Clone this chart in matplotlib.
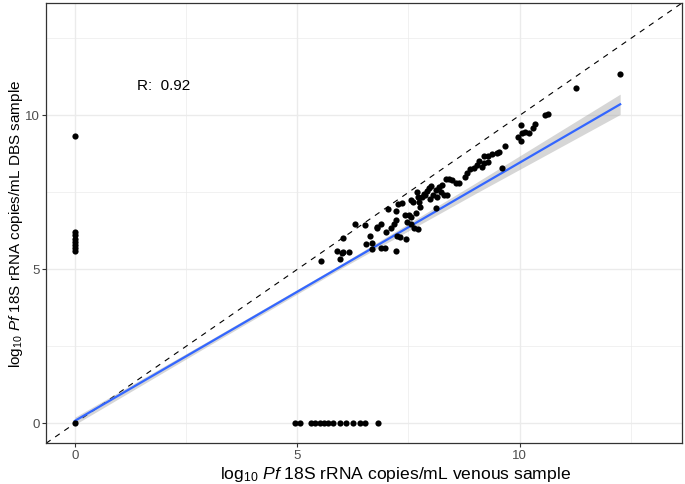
import numpy as np
import matplotlib.pyplot as plt

plt.rcParams['font.family'] = ['Liberation Sans', 'DejaVu Sans']
plt.rcParams['mathtext.fontset'] = 'custom'
plt.rcParams['mathtext.rm'] = 'Liberation Sans'
plt.rcParams['mathtext.it'] = 'Liberation Sans:italic'

# venous (x) vs DBS (y), log10 copies/mL
venous = [0, 0, 0, 0, 0, 0, 0, 0, 0,
          4.95, 5.05, 5.3, 5.4, 5.5, 5.6, 5.7, 5.8, 5.95, 6.1, 6.25, 6.4, 6.52, 6.82,
          5.54, 5.96, 5.90, 6.02, 6.17, 6.02, 6.30, 6.52, 6.64, 6.55, 6.67, 6.67,
          6.88, 6.97, 6.80, 6.88, 6.99, 7.10, 7.17, 7.21, 7.27, 7.21, 7.21, 7.25,
          7.32, 7.45, 7.42, 7.51, 7.55, 7.47, 7.55, 7.62, 7.72, 7.55, 7.66, 7.70,
          7.72, 7.74, 7.76, 7.81, 7.88, 7.96, 7.99, 8.05, 8.11, 8.15, 8.18, 8.24,
          8.26, 8.30, 8.37, 8.11, 8.42, 8.48, 8.56, 8.63, 8.78, 8.82, 8.89, 8.97,
          9.04, 9.08, 9.19, 9.29, 9.38, 9.49, 9.53, 9.19, 9.29, 9.16, 9.66, 9.60,
          9.96, 10.04, 10.05, 10.04, 10.13, 10.20, 10.31, 10.35, 10.58, 10.63,
          11.27, 12.26, 6.0, 6.79, 7.05, 7.35, 7.60, 7.85, 7.92, 8.00, 8.35]
dbs = [0, 9.33, 6.2, 6.1, 6.0, 5.9, 5.8, 5.7, 5.6,
       0, 0, 0, 0, 0, 0, 0, 0, 0, 0, 0, 0, 0, 0,
       5.27, 5.33, 5.59, 5.56, 5.56, 6.03, 6.47, 6.45, 6.09, 5.82, 5.84, 5.66,
       5.70, 5.70, 6.38, 6.46, 6.22, 6.33, 6.47, 6.60, 7.12, 6.89, 5.59, 6.08,
       6.06, 6.00, 6.76, 6.76, 6.71, 6.55, 6.46, 6.33, 6.31, 7.25, 6.82, 7.52,
       7.36, 7.20, 7.03, 7.36, 7.41, 7.63, 7.30, 7.41, 7.57, 7.36, 7.68, 7.52,
       7.74, 7.41, 7.41, 6.98, 7.92, 7.90, 7.81, 7.79, 8.01, 8.12, 8.25, 8.28,
       8.39, 8.52, 8.68, 8.68, 8.74, 8.79, 8.82, 8.46, 8.49, 8.31, 9.01, 8.28,
       9.29, 9.18, 9.42, 9.69, 9.47, 9.42, 9.58, 9.72, 10.01, 10.04,
       10.88, 11.34, 5.54, 6.34, 6.95, 7.15, 7.20, 7.45, 7.55, 7.70, 7.95]

# fitted line and confidence band
fit_x = [0, 12.26]
fit_y = [0.08, 10.36]
band_x = [0, 3, 6, 9, 12.26]
band_hw = [0.12, 0.08, 0.07, 0.17, 0.33]
r_value = 0.92

fig = plt.figure(figsize=(6.85, 4.84), dpi=100)
ax = fig.add_axes([0.0672, 0.0841, 0.9284, 0.9097])

lims = (-0.65, 13.65)
ax.set_xlim(lims)
ax.set_ylim(lims)

ax.set_xticks([0, 5, 10])
ax.set_yticks([0, 5, 10])
ax.set_xticks([2.5, 7.5, 12.5], minor=True)
ax.set_yticks([2.5, 7.5, 12.5], minor=True)
ax.grid(True, which='major', color='#ebebeb', lw=1.0, zorder=0)
ax.grid(True, which='minor', color='#ebebeb', lw=0.5, zorder=0)
ax.tick_params(which='minor', length=0)
ax.tick_params(which='major', length=3, width=0.8, color='#333333',
               labelcolor='#4d4d4d', labelsize=9.5, pad=1.5)
for s in ax.spines.values():
    s.set_color('#333333')
    s.set_linewidth(0.9)

ax.plot(lims, lims, ls=(0, (5, 5)), color='black', lw=0.8, zorder=2)

bx = np.array(band_x)
line_at = np.interp(bx, fit_x, fit_y)
ax.fill_between(bx, line_at - np.array(band_hw), line_at + np.array(band_hw),
                color='#999999', alpha=0.4, lw=0, zorder=3)
ax.plot(fit_x, fit_y, color='#3366FF', lw=1.6, zorder=4)

ax.scatter(venous, dbs, s=20, color='black', lw=0, zorder=5)

ax.text(2.0, 10.95, f'R:  {r_value}', ha='center', va='center', fontsize=11)

ax.set_xlabel(r'log$_{10}$ $\mathit{Pf}$ 18S rRNA copies/mL venous sample', fontsize=12.6)
ax.set_ylabel(r'log$_{10}$ $\mathit{Pf}$ 18S rRNA copies/mL DBS sample', fontsize=11)
ax.xaxis.label.set_va('baseline')
ax.yaxis.label.set_va('center')
ax.xaxis.set_label_coords(0.55, -0.081)
ax.yaxis.set_label_coords(-0.047, 0.498)

fig.savefig('out.png', dpi=100)
